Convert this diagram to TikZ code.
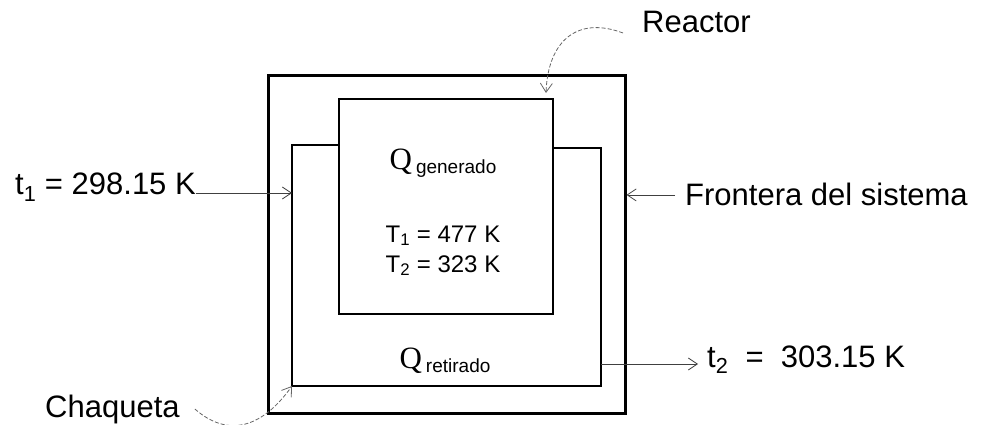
\documentclass[tikz,border=0pt]{standalone}
\usepackage{fontspec}
\setmainfont{Liberation Sans}
\newfontfamily\qfont{Liberation Serif}
\usetikzlibrary{arrows.meta,positioning,calc}
\tikzset{
  lbl/.style={inner sep=0pt,font=\fontsize{31}{34}\selectfont},
  tlbl/.style={inner sep=0pt,font=\fontsize{24}{28}\selectfont},
  boundary/.style={draw,line width=3pt,inner sep=0pt},
  reactorbox/.style={draw,line width=2pt,inner sep=0pt},
  jacket/.style={line width=1.6pt},
  arr/.style={-{Straight Barb[length=9pt,width=12pt]},line width=0.8pt,color=black!75},
  curvarr/.style={-{Straight Barb[length=9pt,width=12pt]},line width=0.8pt,color=black!60,
    dash pattern=on 4pt off 2pt}
}
\newcommand{\Qsub}[1]{{\qfont\fontsize{31}{33}\selectfont Q}\hspace{4pt}\raisebox{-4pt}{\fontsize{19}{21}\selectfont #1}}

\begin{document}
\begin{tikzpicture}[x=1pt,y=-1pt]
  \useasboundingbox (0,0) rectangle (986,425);

  %% Frontera y reactor
  \node[boundary,minimum width=357pt,minimum height=337pt] (frontera) at (446.5,244.5) {};
  \node[reactorbox,minimum width=214pt,minimum height=215pt] (reactor) at (446,206.5) {};

  %% Chaqueta
  \coordinate (jNW) at (292,145);
  \coordinate (jSW) at (292,386);
  \coordinate (jSE) at (601,386);
  \coordinate (jNE) at (601,148);
  \draw[jacket] (reactor.west |- jNW) -- (jNW) -- (jSW) -- (jSE) -- (jNE) -- (reactor.east |- jNE);

  %% Textos interiores
  \node[anchor=base] (qgen) at (443,170) {\Qsub{generado}};
  \node[tlbl,anchor=base] (temp1) at (443,242) {T\textsubscript{1} = 477 K};
  \node[tlbl,anchor=base] (temp2) at (443,272) {T\textsubscript{2} = 323 K};
  \node[anchor=base] (qret) at (445,368) {\Qsub{retirado}};

  %% Etiquetas
  \node[lbl,anchor=base west] (lreactor) at (642,33) {Reactor};
  \node[lbl,anchor=base west] (lfront) at (685,206) {Frontera del sistema};
  \node[lbl,anchor=base west] (lt1) at (15,195) {t\textsubscript{1} = 298.15 K};
  \node[lbl,anchor=base west] (lt2) at (707,367) {t\textsubscript{2} \ = \ 303.15 K};
  \node[lbl,anchor=base west] (lchaq) at (45,417) {Chaqueta};
  \coordinate (rtip) at (546,93);

  \draw[arr] ([yshift=2pt]lt1.base east) -- ([yshift=2pt]lt1.base east -| jSW);
  \draw[arr] ([xshift=-10pt]lfront.west) -- (lfront.west -| frontera.east);
  \draw[arr] ([yshift=3pt]jNE |- lt2.base west) -- ([xshift=-9pt,yshift=3pt]lt2.base west);
  \draw[curvarr] ([xshift=-19pt]lreactor.base west) .. controls (578,16) and (548,40) .. (rtip);
  \draw[curvarr] ([xshift=15pt]lchaq.east) .. controls (228,438) and (262,428) .. (jSW);
\end{tikzpicture}
\end{document}
